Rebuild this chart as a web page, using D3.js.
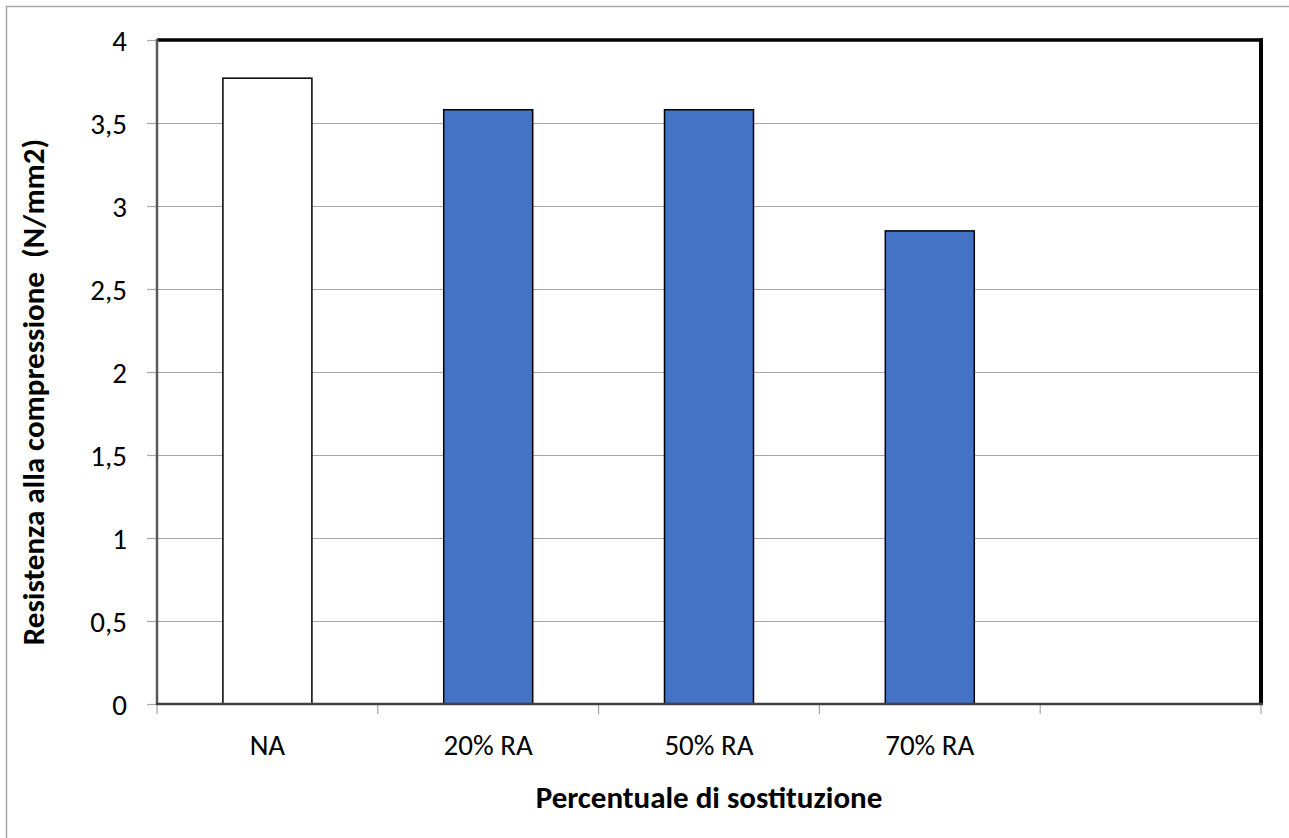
<!DOCTYPE html>
<html>
<head>
<meta charset="utf-8">
<script src="https://cdn.jsdelivr.net/npm/d3@7"></script>
<style>
  html, body { margin: 0; padding: 0; background: #fff; }
  svg { display: block; }
  svg text { font-family: Carlito, Calibri, Lato, "Open Sans", sans-serif; fill: #000; white-space: pre; }
</style>
</head>
<body>
<svg id="chart" width="1289" height="838"></svg>
<script>
// Compressive strength by replacement percentage
const categories = ["NA", "20% RA", "50% RA", "70% RA", ""];
const values = [3.77, 3.58, 3.58, 2.85, null];
const barColors = ["#FFFFFF", "#4472C4", "#4472C4", "#4472C4", "#4472C4"];
const yTicks = [0, 0.5, 1, 1.5, 2, 2.5, 3, 3.5, 4];
const yTitle = "Resistenza alla compressione  (N/mm2)";
const xTitle = "Percentuale di sostituzione";

const svg = d3.select("#chart");
const plotLeft = 157, plotRight = 1261, plotTop = 40, plotBottom = 704;
const tickFont = "29px", titleFont = "31px";

// outer chart frame
svg.append("rect")
  .attr("x", 6.5).attr("y", 6.5)
  .attr("width", 1400).attr("height", 1000)
  .attr("fill", "none").attr("stroke", "#A6A6A6").attr("stroke-width", 1.5);

const x = d3.scaleBand().domain(d3.range(categories.length)).range([plotLeft, plotRight]).paddingInner(0).paddingOuter(0);
const y = d3.scaleLinear().domain([0, 4]).range([plotBottom, plotTop]);

// gridlines
svg.append("g").selectAll("line").data(yTicks.filter(d => d > 0 && d < 4)).join("line")
  .attr("x1", plotLeft).attr("x2", plotRight)
  .attr("y1", d => y(d) + 0.5).attr("y2", d => y(d) + 0.5)
  .attr("stroke", "#A6A6A6").attr("stroke-width", 1);

// bars
const barW = 89;
svg.append("g").selectAll("rect").data(values.map((v, i) => ({ v, i })).filter(d => d.v != null)).join("rect")
  .attr("x", d => x(d.i) + x.bandwidth() / 2 - barW / 2)
  .attr("width", barW)
  .attr("y", d => y(d.v))
  .attr("height", d => plotBottom - y(d.v))
  .attr("fill", d => barColors[d.i])
  .attr("stroke", "#000").attr("stroke-width", 1.5);

// plot frame: heavy top and right edges
svg.append("line").attr("x1", plotLeft).attr("x2", plotRight + 2).attr("y1", plotTop).attr("y2", plotTop)
  .attr("stroke", "#000").attr("stroke-width", 3.5);
svg.append("line").attr("x1", plotRight).attr("x2", plotRight).attr("y1", plotTop - 1.5).attr("y2", plotBottom)
  .attr("stroke", "#000").attr("stroke-width", 4);

// y axis
const yAxis = d3.axisLeft(y).tickValues(yTicks).tickSize(10).tickPadding(20)
  .tickFormat(d => String(d).replace(".", ","));
const gy = svg.append("g").attr("transform", `translate(${plotLeft},0)`).call(yAxis);
gy.attr("font-size", null).attr("font-family", null);
gy.select(".domain").remove();
gy.selectAll(".tick line").attr("stroke", "#A6A6A6").attr("stroke-width", 1.2);
gy.selectAll(".tick text").style("font-size", tickFont).attr("dy", "0.35em");
svg.append("line").attr("x1", plotLeft).attr("x2", plotLeft).attr("y1", plotTop - 1).attr("y2", plotBottom + 1)
  .attr("stroke", "#595959").attr("stroke-width", 2.5);

// x axis
const xEdges = d3.range(categories.length + 1).map(i => plotLeft + i * x.bandwidth());
svg.append("g").selectAll("line").data(xEdges).join("line")
  .attr("x1", d => d).attr("x2", d => d)
  .attr("y1", plotBottom).attr("y2", plotBottom + 10)
  .attr("stroke", "#A6A6A6").attr("stroke-width", 1.2);
svg.append("line").attr("x1", plotLeft - 1).attr("x2", plotRight + 2).attr("y1", plotBottom).attr("y2", plotBottom)
  .attr("stroke", "#404040").attr("stroke-width", 2.5);
svg.append("g").selectAll("text").data(categories.map((c, i) => ({ c, i }))).join("text")
  .attr("x", d => x(d.i) + x.bandwidth() / 2)
  .attr("y", 755)
  .attr("text-anchor", "middle")
  .style("font-size", tickFont)
  .text(d => d.c);

// axis titles
svg.append("text")
  .attr("x", (plotLeft + plotRight) / 2).attr("y", 808)
  .attr("text-anchor", "middle")
  .style("font-size", titleFont).style("font-weight", "bold")
  .text(xTitle);
svg.append("text")
  .attr("transform", `translate(44,392) rotate(-90)`)
  .attr("text-anchor", "middle")
  .style("font-size", titleFont).style("font-weight", "bold")
  .text(yTitle);
</script>
</body>
</html>
